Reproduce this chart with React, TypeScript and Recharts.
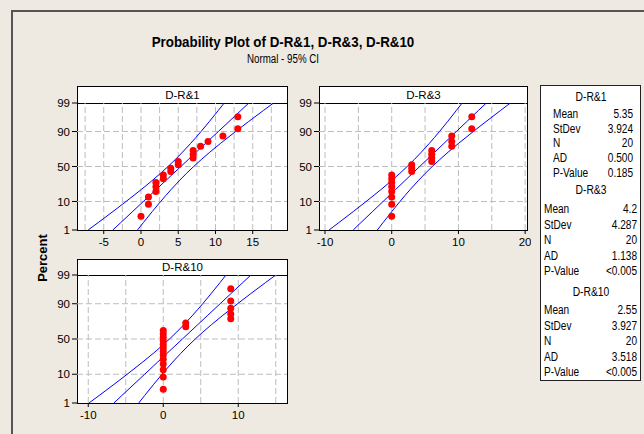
import React from 'react';
import { ComposedChart, XAxis, YAxis, Line, Scatter, ReferenceLine } from 'recharts';

const FONT = '"Liberation Sans", Arial, sans-serif';

// probability scale ticks / grid (percent)
const PCT_TICKS = [1, 10, 50, 90, 99];
const PCT_GRID = [10, 50, 90];
// plotting positions of the 20 ordered observations (percent)
const PLOT_PCT = [3.4, 8.3, 13.2, 18.1, 23.0, 27.9, 32.8, 37.7, 42.6, 47.5, 52.5, 57.4, 62.3, 67.2, 72.1, 77.0, 81.9, 86.8, 91.7, 96.6];
// percent positions at which the fit line and CI bands are read
const BAND_PCT = [1, 2, 5, 10, 20, 30, 40, 50, 60, 70, 80, 90, 95, 98, 99];

// D-R&1
const DR1_VALUES = [0, 1, 1, 2, 2, 2, 3, 3, 4, 4, 5, 5, 7, 7, 7, 8, 9, 11, 13, 13];
const DR1_FIT = [-3.78, -2.71, -1.11, 0.32, 2.05, 3.29, 4.36, 5.35, 6.34, 7.41, 8.65, 10.38, 11.81, 13.41, 14.48];
const DR1_LOWER = [-7.09, -5.74, -3.74, -2.0, 0.05, 1.46, 2.61, 3.63, 4.6, 5.57, 6.65, 8.06, 9.17, 10.38, 11.17];
const DR1_UPPER = [-0.47, 0.32, 1.53, 2.64, 4.05, 5.13, 6.1, 7.07, 8.09, 9.24, 10.65, 12.7, 14.44, 16.44, 17.79];
const DR1_XTICKS = [-5, 0, 5, 10, 15];
const DR1_XGRID = [-7.5, -5, -2.5, 0, 2.5, 5, 7.5, 10, 12.5, 15, 17.5];

// D-R&3
const DR3_VALUES = [0, 0, 0, 0, 0, 0, 0, 0, 3, 3, 3, 6, 6, 6, 6, 9, 9, 9, 12, 12];
const DR3_FIT = [-5.77, -4.61, -2.85, -1.29, 0.59, 1.95, 3.11, 4.2, 5.29, 6.45, 7.81, 9.69, 11.25, 13.01, 14.17];
const DR3_LOWER = [-9.39, -7.92, -5.73, -3.83, -1.59, -0.05, 1.21, 2.32, 3.38, 4.44, 5.62, 7.16, 8.37, 9.69, 10.56];
const DR3_UPPER = [-2.16, -1.29, 0.03, 1.24, 2.78, 3.96, 5.02, 6.08, 7.2, 8.45, 9.99, 12.23, 14.13, 16.32, 17.79];
const DR3_XTICKS = [-10, 0, 10, 20];
const DR3_XGRID = [-10, -5, 0, 5, 10, 15, 20];

// D-R&10
const DR10_VALUES = [0, 0, 0, 0, 0, 0, 0, 0, 0, 0, 0, 0, 0, 3, 3, 9, 9, 9, 9, 9];
const DR10_FIT = [-6.58, -5.52, -3.91, -2.48, -0.76, 0.49, 1.56, 2.55, 3.55, 4.61, 5.86, 7.58, 9.01, 10.62, 11.68];
const DR10_LOWER = [-9.9, -8.55, -6.55, -4.81, -2.76, -1.34, -0.19, 0.83, 1.8, 2.77, 3.85, 5.26, 6.37, 7.58, 8.37];
const DR10_UPPER = [-3.27, -2.48, -1.27, -0.16, 1.25, 2.33, 3.3, 4.27, 5.29, 6.44, 7.86, 9.91, 11.65, 13.65, 15.0];
const DR10_XTICKS = [-10, 0, 10];
const DR10_XGRID = [-10, -5, 0, 5, 10, 15];

// summary table
const STAT_LABELS = ['Mean', 'StDev', 'N', 'AD', 'P-Value'];
const DR1_STATS = ['5.35', '3.924', '20', '0.500', '0.185'];
const DR3_STATS = ['4.2', '4.287', '20', '1.138', '<0.005'];
const DR10_STATS = ['2.55', '3.927', '20', '3.518', '<0.005'];

function probit(p: number): number {
  const a = [-3.969683028665376e1, 2.209460984245205e2, -2.759285104469687e2, 1.38357751867269e2, -3.066479806614716e1, 2.506628277459239];
  const b = [-5.447609879822406e1, 1.615858368580409e2, -1.556989798598866e2, 6.680131188771972e1, -1.328068155288572e1];
  const c = [-7.784894002430293e-3, -3.223964580411365e-1, -2.400758277161838, -2.549671010071476, 4.374664141464968, 2.938163982698783];
  const d = [7.784695709041462e-3, 3.224671290700398e-1, 2.445134137142996, 3.754408661907416];
  const plow = 0.02425;
  const phigh = 1 - plow;
  if (p < plow) {
    const q = Math.sqrt(-2 * Math.log(p));
    return (((((c[0] * q + c[1]) * q + c[2]) * q + c[3]) * q + c[4]) * q + c[5]) / ((((d[0] * q + d[1]) * q + d[2]) * q + d[3]) * q + 1);
  }
  if (p <= phigh) {
    const q = p - 0.5;
    const r = q * q;
    return ((((((a[0] * r + a[1]) * r + a[2]) * r + a[3]) * r + a[4]) * r + a[5]) * q) / (((((b[0] * r + b[1]) * r + b[2]) * r + b[3]) * r + b[4]) * r + 1);
  }
  const q = Math.sqrt(-2 * Math.log(1 - p));
  return -(((((c[0] * q + c[1]) * q + c[2]) * q + c[3]) * q + c[4]) * q + c[5]) / ((((d[0] * q + d[1]) * q + d[2]) * q + d[3]) * q + 1);
}

const Z_LO = probit(0.01);
const Z_HI = probit(0.99);
const Z_TICKS = PCT_TICKS.map((p) => probit(p / 100));

const fmtPct = (v: number) => {
  let best = 0;
  Z_TICKS.forEach((z, i) => {
    if (Math.abs(z - v) < Math.abs(Z_TICKS[best] - v)) best = i;
  });
  return String(PCT_TICKS[best]);
};

interface PanelProps {
  title: string;
  plotLeft: number;
  plotTop: number;
  plotW: number;
  plotH: number;
  headerTop: number;
  domain: [number, number];
  xTicks: number[];
  xGrid: number[];
  values: number[];
  fit: number[];
  lower: number[];
  upper: number[];
}

const Dot = (props: any) => <circle cx={props.cx} cy={props.cy} r={3.5} fill="#ff0000" />;

function Panel(p: PanelProps) {
  const YW = 45;
  const MT = 12;
  const MR = 4;
  const XH = 30;
  const points = p.values.map((v, i) => ({ x: v, z: probit(PLOT_PCT[i] / 100) }));
  const mk = (arr: number[]) => arr.map((v, i) => ({ x: v, z: probit(BAND_PCT[i] / 100) }));
  const tickStyle = { fill: '#000', fontSize: 11.5, fontFamily: FONT };
  return (
    <>
      <div
        style={{
          position: 'absolute',
          left: p.plotLeft,
          top: p.headerTop,
          width: p.plotW + 1,
          height: p.plotTop - p.headerTop + 1,
          boxSizing: 'border-box',
          border: '1px solid #000',
          background: '#fff',
          fontFamily: FONT,
          fontSize: 11.5,
          textAlign: 'center',
          lineHeight: `${p.plotTop - p.headerTop - 1}px`,
          color: '#000',
        }}
      >
        {p.title}
      </div>
      <div
        style={{
          position: 'absolute',
          left: p.plotLeft,
          top: p.plotTop,
          width: p.plotW + 1,
          height: p.plotH + 1,
          boxSizing: 'border-box',
          border: '1px solid #000',
          background: '#fff',
        }}
      />
      <div style={{ position: 'absolute', left: p.plotLeft - YW, top: p.plotTop - MT }}>
        <ComposedChart width={YW + p.plotW + MR} height={MT + p.plotH + XH} margin={{ top: MT, right: MR, bottom: 0, left: 0 }}>
          <XAxis
            dataKey="x"
            type="number"
            domain={p.domain}
            allowDataOverflow
            ticks={p.xTicks}
            interval={0}
            height={XH}
            axisLine={false}
            tickLine={{ stroke: '#000' }}
            tickSize={4}
            tickMargin={4}
            tick={tickStyle}
          />
          <YAxis
            dataKey="z"
            type="number"
            domain={[Z_LO, Z_HI]}
            allowDataOverflow
            ticks={Z_TICKS}
            interval={0}
            tickFormatter={fmtPct}
            width={YW}
            axisLine={false}
            tickLine={{ stroke: '#000' }}
            tickSize={5}
            tickMargin={2}
            tick={tickStyle}
          />
          {p.xGrid.map((g) => (
            <ReferenceLine key={'v' + g} x={g} stroke="#bdbdbd" strokeDasharray="6 3" />
          ))}
          {PCT_GRID.map((g) => (
            <ReferenceLine key={'h' + g} y={probit(g / 100)} stroke="#bdbdbd" strokeDasharray="6 3" />
          ))}
          <Line data={mk(p.lower)} dataKey="z" type="monotone" stroke="#0000ff" strokeWidth={1} dot={false} activeDot={false} isAnimationActive={false} />
          <Line data={mk(p.fit)} dataKey="z" type="linear" stroke="#0000ff" strokeWidth={1} dot={false} activeDot={false} isAnimationActive={false} />
          <Line data={mk(p.upper)} dataKey="z" type="monotone" stroke="#0000ff" strokeWidth={1} dot={false} activeDot={false} isAnimationActive={false} />
          <Scatter data={points} dataKey="z" shape={Dot} isAnimationActive={false} />
        </ComposedChart>
      </div>
    </>
  );
}

function StatBlock({ title, stats, y0, rowYs, labelLeft, valueRight }: { title: string; stats: string[]; y0: number; rowYs: number[]; labelLeft: number; valueRight: number }) {
  const txt = { position: 'absolute' as const, height: 14, lineHeight: '14px', fontFamily: FONT, fontSize: 12, color: '#000', whiteSpace: 'nowrap' as const };
  return (
    <>
      <div style={{ ...txt, left: 541, width: 100, top: y0 - 7, textAlign: 'center', transform: 'scaleX(0.86)' }}>{title}</div>
      {STAT_LABELS.map((l, i) => (
        <React.Fragment key={l}>
          <div style={{ ...txt, left: labelLeft, top: rowYs[i] - 7, transform: 'scaleX(0.84)', transformOrigin: 'left center' }}>{l}</div>
          <div style={{ ...txt, left: valueRight - 60, width: 60, top: rowYs[i] - 7, textAlign: 'right', transform: 'scaleX(0.84)', transformOrigin: 'right center' }}>{stats[i]}</div>
        </React.Fragment>
      ))}
    </>
  );
}

export default function App() {
  return (
    <div style={{ position: 'absolute', left: 0, top: 0, width: 644, height: 434, background: '#eeeae1', overflow: 'hidden' }}>
      <div style={{ position: 'absolute', left: 11, top: 10, width: 700, height: 500, borderTop: '2px solid #555', borderLeft: '2px solid #555' }} />
      <div style={{ position: 'absolute', left: 83, width: 400, top: 32, textAlign: 'center', fontFamily: FONT, fontWeight: 'bold', fontSize: 15, color: '#000', lineHeight: '20px', transform: 'scaleX(0.89)' }}>
        Probability Plot of D-R&amp;1, D-R&amp;3, D-R&amp;10
      </div>
      <div style={{ position: 'absolute', left: 83, width: 400, top: 52, textAlign: 'center', fontFamily: FONT, fontSize: 12.5, color: '#000', lineHeight: '14px', transform: 'scaleX(0.78)' }}>
        Normal - 95% CI
      </div>
      <div
        style={{
          position: 'absolute',
          left: 42,
          top: 258,
          transform: 'translate(-50%, -50%) rotate(-90deg)',
          fontFamily: FONT,
          fontWeight: 'bold',
          fontSize: 13,
          color: '#000',
          whiteSpace: 'nowrap',
        }}
      >
        Percent
      </div>

      <Panel title="D-R&1" plotLeft={77} plotTop={103} plotW={210} plotH={127} headerTop={86} domain={[-8.59, 19.6]} xTicks={DR1_XTICKS} xGrid={DR1_XGRID} values={DR1_VALUES} fit={DR1_FIT} lower={DR1_LOWER} upper={DR1_UPPER} />
      <Panel title="D-R&3" plotLeft={319} plotTop={103} plotW={208} plotH={127} headerTop={86} domain={[-10.9, 20.28]} xTicks={DR3_XTICKS} xGrid={DR3_XGRID} values={DR3_VALUES} fit={DR3_FIT} lower={DR3_LOWER} upper={DR3_UPPER} />
      <Panel title="D-R&10" plotLeft={77} plotTop={275} plotW={210} plotH={128} headerTop={259} domain={[-11.5, 16.5]} xTicks={DR10_XTICKS} xGrid={DR10_XGRID} values={DR10_VALUES} fit={DR10_FIT} lower={DR10_LOWER} upper={DR10_UPPER} />

      <div style={{ position: 'absolute', left: 540, top: 85, width: 101, height: 296, boxSizing: 'border-box', border: '1px solid #222', background: '#fff' }} />
      <StatBlock title="D-R&1" stats={DR1_STATS} y0={97} rowYs={[114, 128.5, 143, 158, 173]} labelLeft={553} valueRight={633} />
      <StatBlock title="D-R&3" stats={DR3_STATS} y0={190} rowYs={[209, 224.5, 240, 256, 271]} labelLeft={544} valueRight={637} />
      <StatBlock title="D-R&10" stats={DR10_STATS} y0={292} rowYs={[310, 326, 341, 357, 372]} labelLeft={544} valueRight={637} />
    </div>
  );
}
